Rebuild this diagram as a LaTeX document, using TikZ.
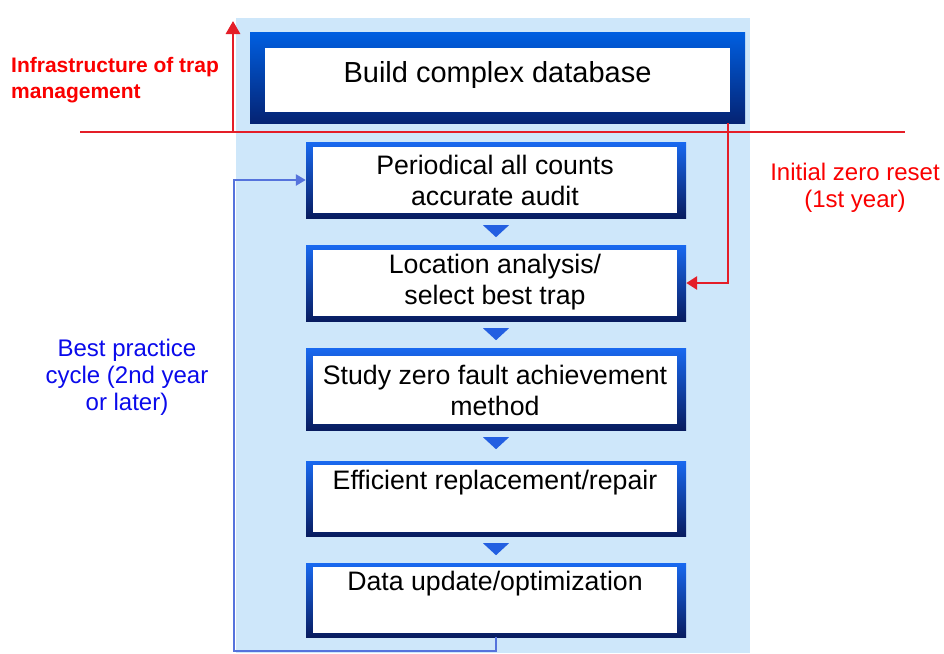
\documentclass[tikz,border=0pt]{standalone}
\usepackage{fontspec}
\setmainfont{Liberation Sans}
\usetikzlibrary{arrows.meta,calc}
\definecolor{panel}{RGB}{206,231,250}
\definecolor{btop}{RGB}{25,105,240}
\definecolor{bbot}{RGB}{8,28,95}
\definecolor{ttop}{RGB}{0,95,225}
\definecolor{tbot}{RGB}{5,35,115}
\definecolor{trib}{RGB}{35,95,225}
\definecolor{redl}{RGB}{228,30,40}
\definecolor{redt}{RGB}{250,0,0}
\definecolor{bluet}{RGB}{10,10,235}
\definecolor{loopc}{RGB}{85,115,220}
\tikzset{
  outerbox/.style={rectangle, draw=none, top color=btop, bottom color=bbot, inner sep=0pt},
  topouter/.style={rectangle, draw=none, top color=ttop, bottom color=tbot, inner sep=0pt},
  innerbox/.style={rectangle, fill=white, draw=none, inner sep=0pt},
  steptext/.style={align=center, inner sep=0pt, font=\fontsize{26.7}{31}\selectfont},
  tri/.style={fill=trib},
  redline/.style={draw=redl, line width=2.8pt},
  loopline/.style={draw=loopc, line width=2.4pt},
}
\begin{document}
\begin{tikzpicture}[x=1pt,y=-1pt]
\useasboundingbox (0,0) rectangle (944,653);
\fill[white] (0,0) rectangle (944,653);
\fill[panel] (236,18) rectangle (750,653);

% top box
\node[topouter, minimum width=495, minimum height=91] (o0) at (497.5,77.5) {};
\node[innerbox, minimum width=465, minimum height=64] (i0) at (497.5,80) {};
\node[inner sep=0pt, font=\fontsize{29}{33}\selectfont] (t0) at (497.5,75) {Build complex database};

% step boxes
\node[outerbox, minimum width=380, minimum height=76] (o1) at (496,180) {};
\node[innerbox, minimum width=364, minimum height=66] (i1) at (495,180) {};
\node[steptext] (t1) at (495,180) {Periodical all counts\\accurate audit};

\node[outerbox, minimum width=380, minimum height=76] (o2) at (496,283) {};
\node[innerbox, minimum width=364, minimum height=66] (i2) at (495,283) {};
\node[steptext] (t2) at (495,282) {Location analysis/\\select best trap};

\node[outerbox, minimum width=380, minimum height=82] (o3) at (496,389) {};
\node[innerbox, minimum width=364, minimum height=68] (i3) at (495,390) {};
\node[steptext] (t3) at (495,390) {Study zero fault achievement\\method};

\node[outerbox, minimum width=380, minimum height=75] (o4) at (496,498.5) {};
\node[innerbox, minimum width=364, minimum height=67] (i4) at (495,498.5) {};
\node[steptext] (t4) at (495,483) {Efficient replacement/repair};

\node[outerbox, minimum width=380, minimum height=74] (o5) at (496,600) {};
\node[innerbox, minimum width=364, minimum height=66] (i5) at (495,600) {};
\node[steptext] (t5) at (495,584) {Data update/optimization};

% triangles between steps
\foreach \a in {o1,o2,o3,o4}{
  \fill[tri] ($(\a.south)+(-13,7)$) -- ($(\a.south)+(13,7)$) -- ($(\a.south)+(0,19)$) -- cycle;
}

% red lines
\coordinate (rl) at (80,132);
\coordinate (rr) at (905,132);
\draw[redline] (rl) -- (rr);
\coordinate (ub) at (233,132);
\coordinate (ut) at (233,21);
\draw[redline, -{Triangle[length=13pt,width=14pt]}] (ub) -- (ut);
\coordinate (rc) at (728,123);
\draw[redline, -{Triangle[length=11pt,width=13pt]}] (rc) |- (o2.east);

% blue loop
\coordinate (lb) at (234,651);
\draw[loopline, -{Triangle[length=10pt,width=11pt]}] (o5.south) |- (lb) |- (o1.west);

% labels
\node[anchor=west, align=left, inner sep=0pt, text=redt, font=\bfseries\fontsize{21}{26}\selectfont] (l1) at (11,80) {Infrastructure of trap\\management};
\node[align=center, inner sep=0pt, text=redt, font=\fontsize{24}{27}\selectfont] (l2) at (855,188) {Initial zero reset\\(1st year)};
\node[align=center, inner sep=0pt, text=bluet, font=\fontsize{24}{27}\selectfont] (l3) at (127,377) {Best practice\\cycle (2nd year\\or later)};
\end{tikzpicture}
\end{document}
